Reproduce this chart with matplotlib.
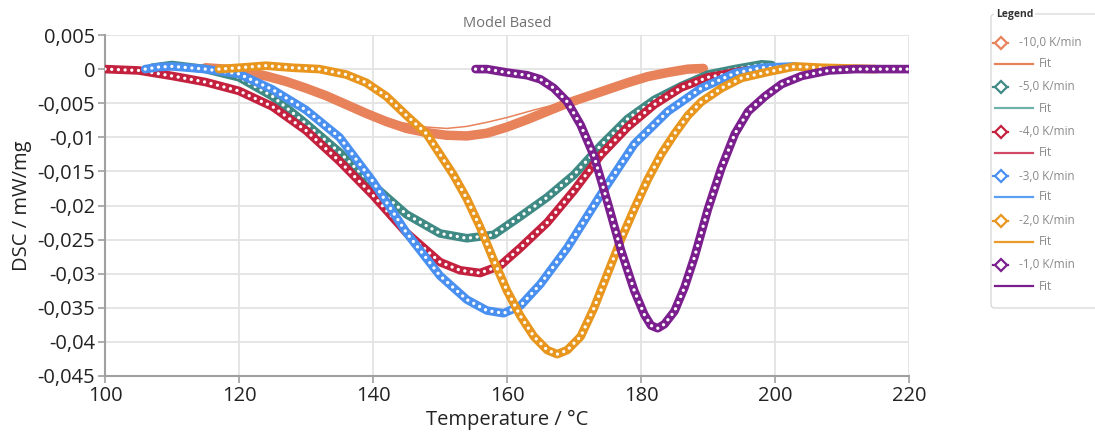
import matplotlib
matplotlib.use("Agg")
import matplotlib.pyplot as plt
from matplotlib.patches import FancyBboxPatch

# ---------------- data ----------------
series_labels = ["-10,0 K/min", "-5,0 K/min", "-4,0 K/min", "-3,0 K/min", "-2,0 K/min", "-1,0 K/min"]
fit_label = "Fit"

t_m10 = [115, 118, 121, 124, 127, 130, 133, 136, 139, 142, 145, 148, 151, 154, 157, 160, 163, 166, 169, 172, 175, 178, 181, 184, 187, 189.3]
y_m10 = [0.0002, 0.0, -0.0004, -0.0010, -0.0018, -0.0028, -0.0039, -0.0052, -0.0065, -0.0077, -0.0087, -0.0093, -0.0097, -0.0098,
         -0.0094, -0.0085, -0.0074, -0.0062, -0.0050, -0.0040, -0.0030, -0.0020, -0.0011, -0.0005, 0.0, 0.0001]
t_m10_fit = [115, 120, 125, 130, 135, 140, 144, 148, 151, 154, 157, 160, 164, 168, 172, 176, 180, 184, 188]
y_m10_fit = [0.0001, -0.0003, -0.0012, -0.0026, -0.0045, -0.0065, -0.0078, -0.0085, -0.0087, -0.0084, -0.0078, -0.0071,
             -0.0060, -0.0050, -0.0040, -0.0027, -0.0014, -0.0005, 0.0]

t_m5 = [107, 110, 115, 120, 125, 130, 135, 140, 145, 150, 154, 158, 162, 166, 170, 174, 178, 182, 186, 190, 194, 198, 199.5]
y_m5 = [0.0002, 0.0006, 0.0, -0.0012, -0.0040, -0.0080, -0.0122, -0.0170, -0.0213, -0.0241, -0.0248, -0.0243, -0.0216,
        -0.0188, -0.0155, -0.0112, -0.0073, -0.0045, -0.0025, -0.0008, 0.0, 0.0007, 0.0006]

t_m4 = [100, 105, 110, 115, 120, 125, 130, 135, 140, 145, 150, 153, 156, 159, 162, 166, 170, 174, 178, 182, 186, 190, 195, 199]
y_m4 = [0.0, -0.0002, -0.0010, -0.0019, -0.0032, -0.0055, -0.0090, -0.0135, -0.0185, -0.0240, -0.0283, -0.0295, -0.0299,
        -0.0288, -0.0262, -0.0225, -0.0178, -0.0126, -0.0085, -0.0052, -0.0027, -0.0012, -0.0003, 0.0001]

t_m3 = [106, 108, 110, 115, 120, 125, 130, 135, 140, 145, 150, 154, 157, 159.5, 162, 165, 169, 174, 179, 184, 189, 194, 198, 203]
y_m3 = [0.0, 0.0003, 0.0004, 0.0, -0.0007, -0.0030, -0.0060, -0.0100, -0.0165, -0.0240, -0.0303, -0.0338, -0.0354, -0.0358,
        -0.0347, -0.0315, -0.0262, -0.0184, -0.0110, -0.0062, -0.0028, -0.0006, 0.0002, 0.0004]

t_m2 = [117, 120, 124, 128, 132, 136, 139, 142, 145, 148, 150, 152, 154, 156, 158, 160, 162, 164, 166, 167.5, 169, 171, 173,
        175, 177, 179, 181, 183, 185, 187, 189, 192, 195, 199, 203, 207, 211, 215]
y_m2 = [0.0, 0.0002, 0.0005, 0.0002, 0.0, -0.0008, -0.0020, -0.0040, -0.0068, -0.0095, -0.0125, -0.0155, -0.0190, -0.0232,
        -0.0280, -0.0325, -0.0362, -0.0392, -0.0412, -0.0418, -0.0412, -0.0392, -0.0350, -0.0300, -0.0250, -0.0205, -0.0162,
        -0.0125, -0.0095, -0.0068, -0.0048, -0.0028, -0.0013, -0.0004, 0.0004, 0.0002, 0.0001, 0.0]

t_m1 = [155.3, 157, 160, 163, 165, 167, 169, 171, 173, 175, 177, 179, 180.5, 181.5, 182.5, 183.5, 185, 186.5, 188, 190, 192, 194, 196,
        198.5, 201, 204, 208, 212, 216, 220]
y_m1 = [0.0, 0.0, -0.0005, -0.0009, -0.0015, -0.0028, -0.0048, -0.0082, -0.0128, -0.0195, -0.0265, -0.0325, -0.0360, -0.0376, -0.0380,
        -0.0374, -0.0355, -0.0320, -0.0275, -0.0205, -0.0145, -0.0095, -0.0062, -0.0040, -0.0022, -0.0010, -0.0002, 0.0, 0.0, 0.0]

x_ticks = [100, 120, 140, 160, 180, 200, 220]
y_ticks = [0.005, 0, -0.005, -0.01, -0.015, -0.02, -0.025, -0.03, -0.035, -0.04, -0.045]
y_tick_labels = ["0,005", "0", "-0,005", "-0,01", "-0,015", "-0,02", "-0,025", "-0,03", "-0,035", "-0,04", "-0,045"]

data_t = [t_m10, t_m5, t_m4, t_m3, t_m2, t_m1]
data_y = [y_m10, y_m5, y_m4, y_m3, y_m2, y_m1]
fit_t = [t_m10_fit, t_m5, t_m4, t_m3, t_m2, t_m1]
fit_y = [y_m10_fit, y_m5, y_m4, y_m3, y_m2, y_m1]

colors = ["#E8825A", "#3F8A84", "#C4213F", "#4A90F0", "#E8961E", "#7B1F8E"]
fit_colors = ["#E8825A", "#6FB3AD", "#D04A66", "#5C9EF2", "#EC9A2A", "#7B1F8E"]

# ---------------- figure ----------------
plt.rcParams["font.family"] = ["Open Sans", "DejaVu Sans"]
W, H = 1095, 441
fig = plt.figure(figsize=(W / 100, H / 100), dpi=100)
L, R, T, B = 105, 909, 35, 376
ax = fig.add_axes([L / W, 1 - B / H, (R - L) / W, (B - T) / H])

for i in range(6):
    c = colors[i]
    z = 3 + i
    if i == 0:
        ax.plot(data_t[i], data_y[i], color=c, lw=6.8, solid_capstyle="round", solid_joinstyle="round", zorder=z)
        ax.plot(fit_t[i], fit_y[i], color=c, lw=1.1, zorder=z + 0.2)
    else:
        ax.plot(data_t[i], data_y[i], color=c, lw=6.2, solid_capstyle="round", solid_joinstyle="round", zorder=z)
        ax.plot(fit_t[i], fit_y[i], color=c, lw=1.0, zorder=z + 0.1)
        ax.plot(data_t[i], data_y[i], color="white", lw=2.4, linestyle=(0, (0.01, 2.0)),
                dash_capstyle="round", zorder=z + 0.2)

ax.set_xlim(100, 220)
ax.set_ylim(-0.045, 0.005)
ax.set_xticks(x_ticks)
ax.set_xticklabels([str(v) for v in x_ticks])
ax.set_yticks(y_ticks)
ax.set_yticklabels(y_tick_labels)
ax.grid(True, color="#E3E3E3", lw=1.3)
ax.set_axisbelow(True)
for s in ["top", "right"]:
    ax.spines[s].set_visible(False)
for s in ["left", "bottom"]:
    ax.spines[s].set_color("#A0A0A0")
    ax.spines[s].set_linewidth(1.5)
ax.tick_params(axis="both", colors="#A0A0A0", labelcolor="#222222", labelsize=14.5, length=5, width=1.2, pad=2)
ax.set_xlabel("Temperature / °C", fontsize=14.5, color="#222222", labelpad=3)
ax.set_ylabel("DSC / mW/mg", fontsize=14.5, color="#222222", labelpad=4)
ax.set_title("Model Based", fontsize=10.5, color="#707070", pad=6)

# ---------------- legend (overlay in pixel coords) ----------------
ov = fig.add_axes([0, 0, 1, 1], zorder=10)
ov.set_xlim(0, W)
ov.set_ylim(H, 0)
ov.axis("off")
box = FancyBboxPatch((991, 14), 130, 294, boxstyle="round,pad=0,rounding_size=4",
                     fc="white", ec="#DADADA", lw=1.0)
ov.add_patch(box)
ov.text(996, 14, "Legend", fontsize=7.5, color="#333333", ha="left", va="center",
        bbox=dict(fc="white", ec="none", pad=1.5), fontweight="bold")
row0 = 42.5
step = 44.5
for i in range(6):
    y0 = row0 + i * step
    ov.plot([993, 1008], [y0, y0], color=colors[i], lw=1.6)
    ov.plot([1000.5], [y0], marker="D", ms=6.5, mfc="white", mec=colors[i], mew=1.6)
    ov.text(1019, y0, series_labels[i], fontsize=8.5, color="#8A8A8A", ha="left", va="center")
    y1 = y0 + 21
    ov.plot([995, 1033], [y1, y1], color=fit_colors[i], lw=1.6)
    ov.text(1039, y1, fit_label, fontsize=8.5, color="#8A8A8A", ha="left", va="center")

fig.savefig("out.png", dpi=100)
